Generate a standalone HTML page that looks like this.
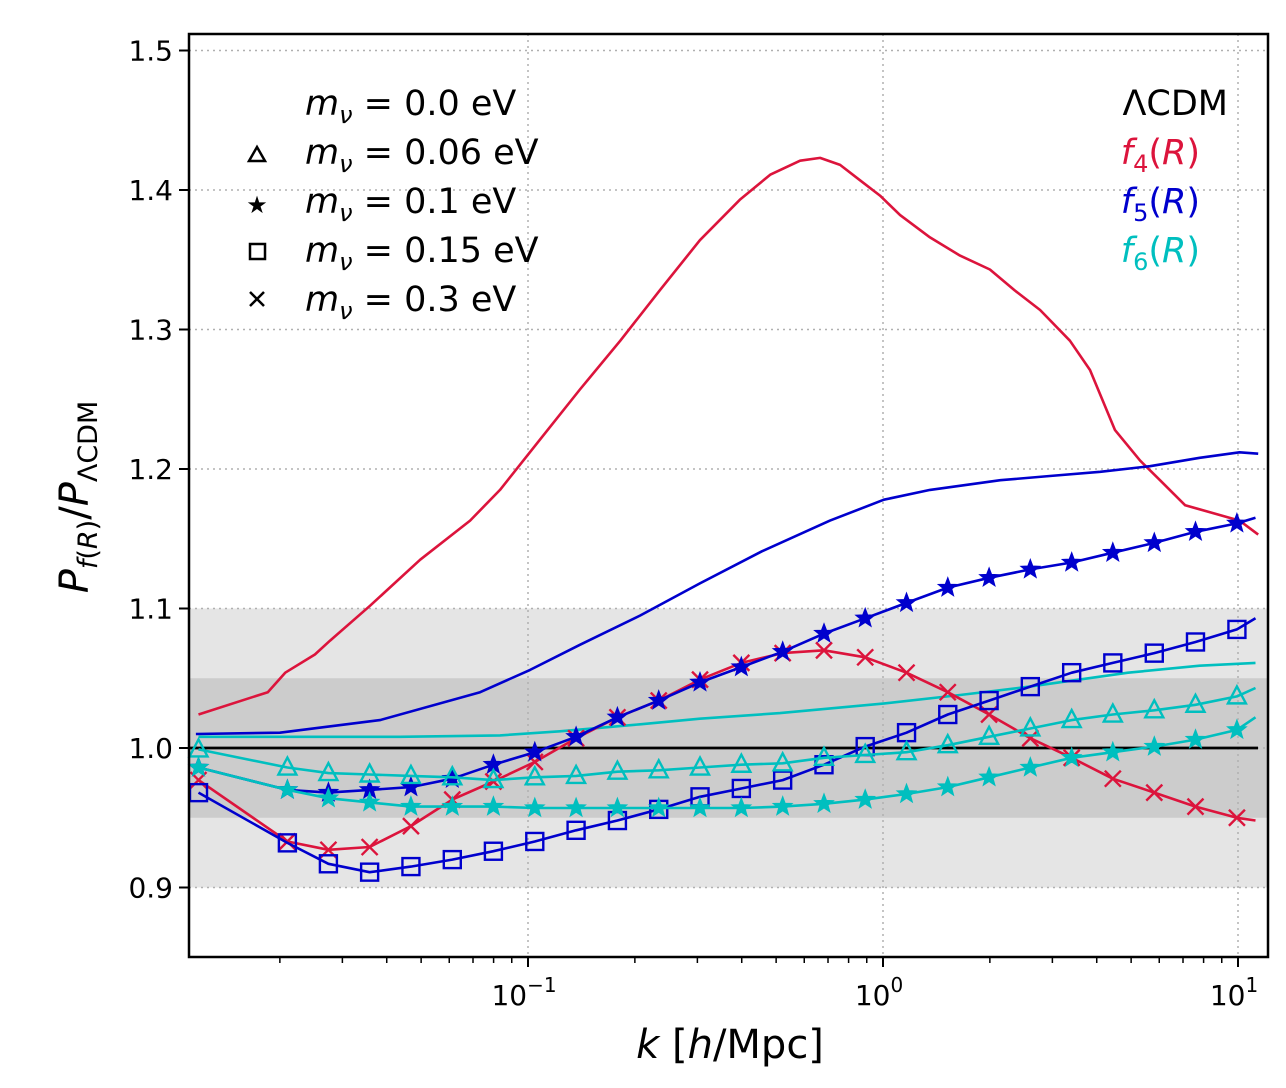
<!DOCTYPE html>
<html><head><meta charset="utf-8">
<style>
html,body{margin:0;padding:0;background:#fff;}
svg{display:block;font-family:"DejaVu Sans","Liberation Sans",sans-serif;}
</style></head>
<body>
<svg id="chart" width="1286" height="1088" viewBox="0 0 1286 1088" xmlns="http://www.w3.org/2000/svg">
<g id="bands"></g>
<g id="grid"></g>
<g id="series"></g>
<g id="axes"></g>
<g id="legend">
  <text x="305" y="115" font-size="35"><tspan font-style="italic">m</tspan><tspan font-style="italic" font-size="24" dy="8">ν</tspan><tspan dy="-8"> = 0.0 eV</tspan></text>
  <path d="M249,161 L265,161 L257,147 Z" fill="none" stroke="#000" stroke-width="2.5"/>
  <text x="305" y="164" font-size="35"><tspan font-style="italic">m</tspan><tspan font-style="italic" font-size="24" dy="8">ν</tspan><tspan dy="-8"> = 0.06 eV</tspan></text>
  <text x="257" y="213" font-size="24" text-anchor="middle">★</text>
  <text x="305" y="213" font-size="35"><tspan font-style="italic">m</tspan><tspan font-style="italic" font-size="24" dy="8">ν</tspan><tspan dy="-8"> = 0.1 eV</tspan></text>
  <rect x="250" y="244" width="15" height="15" fill="none" stroke="#000" stroke-width="2.5"/>
  <text x="305" y="262" font-size="35"><tspan font-style="italic">m</tspan><tspan font-style="italic" font-size="24" dy="8">ν</tspan><tspan dy="-8"> = 0.15 eV</tspan></text>
  <path d="M250,292 L264,306 M264,292 L250,306" stroke="#000" stroke-width="2.5"/>
  <text x="305" y="311" font-size="35"><tspan font-style="italic">m</tspan><tspan font-style="italic" font-size="24" dy="8">ν</tspan><tspan dy="-8"> = 0.3 eV</tspan></text>
  <text x="1228" y="115" font-size="35" text-anchor="end" fill="#000">ΛCDM</text>
  <text x="1200" y="164" font-size="35" text-anchor="end" fill="#dc143c"><tspan font-style="italic">f</tspan><tspan font-size="24" dy="8">4</tspan><tspan dy="-8">(</tspan><tspan font-style="italic">R</tspan><tspan>)</tspan></text>
  <text x="1200" y="213" font-size="35" text-anchor="end" fill="#0000cd"><tspan font-style="italic">f</tspan><tspan font-size="24" dy="8">5</tspan><tspan dy="-8">(</tspan><tspan font-style="italic">R</tspan><tspan>)</tspan></text>
  <text x="1200" y="262" font-size="35" text-anchor="end" fill="#00bfbf"><tspan font-style="italic">f</tspan><tspan font-size="24" dy="8">6</tspan><tspan dy="-8">(</tspan><tspan font-style="italic">R</tspan><tspan>)</tspan></text>
</g>
<text x="730" y="1058" font-size="40" text-anchor="middle"><tspan font-style="italic">k</tspan> [<tspan font-style="italic">h</tspan>/Mpc]</text>
<text transform="translate(88,497) rotate(-90)" font-size="40" text-anchor="middle"><tspan font-style="italic">P</tspan><tspan font-size="27" dy="9"><tspan font-style="italic">f</tspan>(<tspan font-style="italic">R</tspan>)</tspan><tspan dy="-9">/</tspan><tspan font-style="italic">P</tspan><tspan font-size="27" dy="9">ΛCDM</tspan></text>
</svg>
<script>
// ---- data ----
const kGrid = [0.0118,0.0210,0.0274,0.0358,0.0468,0.0612,0.0799,0.1045,0.1366,0.1786,0.2335,0.3052,0.399,0.5216,0.682,0.891,1.165,1.522,1.990,2.60,3.40,4.44,5.81,7.59,9.93,11.2];
const f6Tri = [0.999,0.986,0.982,0.981,0.980,0.979,0.977,0.979,0.980,0.983,0.984,0.986,0.988,0.989,0.993,0.995,0.997,1.002,1.008,1.014,1.020,1.024,1.027,1.031,1.037,1.043];
const f6Star = [0.986,0.970,0.964,0.961,0.958,0.958,0.958,0.957,0.957,0.957,0.957,0.957,0.957,0.958,0.960,0.963,0.967,0.972,0.979,0.986,0.993,0.997,1.001,1.006,1.013,1.022];
const f5Star = [0.986,0.970,0.968,0.970,0.972,0.978,0.988,0.997,1.008,1.022,1.034,1.047,1.058,1.069,1.082,1.093,1.104,1.115,1.122,1.128,1.133,1.140,1.147,1.155,1.161,1.165];
const f5Sq = [0.968,0.932,0.917,0.911,0.915,0.920,0.926,0.933,0.941,0.948,0.956,0.965,0.971,0.977,0.988,1.001,1.011,1.024,1.034,1.044,1.054,1.061,1.068,1.076,1.085,1.093];
const f4X = [0.977,0.933,0.927,0.929,0.944,0.963,0.976,0.990,1.007,1.022,1.034,1.049,1.061,1.068,1.070,1.065,1.054,1.040,1.024,1.007,0.993,0.978,0.968,0.958,0.950,0.948];
const f6K = [0.0118,0.0228,0.0436,0.0834,0.123,0.207,0.305,0.513,1.01,1.648,2.59,4.9,7.8,11.2];
const f6V = [1.008,1.008,1.008,1.009,1.012,1.017,1.021,1.025,1.032,1.038,1.044,1.054,1.059,1.061];
const f5K = [0.0116,0.0200,0.0383,0.0733,0.1014,0.140,0.207,0.305,0.456,0.709,1.006,1.356,2.14,2.95,4.09,5.65,7.8,10.1,11.4];
const f5V = [1.010,1.011,1.020,1.040,1.056,1.074,1.095,1.118,1.141,1.163,1.178,1.185,1.192,1.195,1.198,1.202,1.208,1.212,1.211];
const f4K = [0.0118,0.0185,0.0207,0.0251,0.0277,0.0359,0.0497,0.0687,0.0834,0.108,0.140,0.182,0.235,0.305,0.395,0.481,0.584,0.665,0.757,0.861,0.981,1.117,1.356,1.648,2.0,2.35,2.77,3.36,3.83,4.5,5.3,6.03,7.1,8.34,10.1,11.4];
const f4V = [1.024,1.040,1.054,1.067,1.077,1.102,1.135,1.163,1.185,1.221,1.257,1.292,1.328,1.364,1.393,1.411,1.421,1.423,1.418,1.407,1.396,1.382,1.366,1.353,1.343,1.328,1.314,1.292,1.271,1.228,1.206,1.192,1.174,1.169,1.163,1.153];
const yTicks = [0.9,1.0,1.1,1.2,1.3,1.4,1.5];
const yTickLabels = ["0.9","1.0","1.1","1.2","1.3","1.4","1.5"];
const xTicks = [0.1,1,10];
const xTickExp = ["−1","0","1"];

// ---- axes ----
const L=189,R=1268,T=34,B=957;
const NS='http://www.w3.org/2000/svg';
function xs(k){return 883+355*Math.log10(k);}
function ys(v){return 748-(v-1)*1395;}
function mk(tag,attrs,parent){const e=document.createElementNS(NS,tag);for(const a in attrs)e.setAttribute(a,attrs[a]);parent.appendChild(e);return e;}
const bands=document.getElementById('bands'),grid=document.getElementById('grid'),ser=document.getElementById('series'),axes=document.getElementById('axes');

let b1=mk('rect',{x:L,y:ys(1.1),width:R-L,height:ys(0.9)-ys(1.1),fill:'#e5e5e5'},bands);


let b2=mk('rect',{x:L,y:ys(1.05),width:R-L,height:ys(0.95)-ys(1.05),fill:'#cccccc'},bands);



yTicks.forEach((v,i)=>{
  const y=ys(v);
  let g=mk('line',{x1:L,x2:R,y1:y,y2:y,stroke:'#b0b0b0','stroke-width':1.5,'stroke-dasharray':'2,4'},grid);
  
  
  let t=mk('line',{x1:L-10,x2:L,y1:y,y2:y,stroke:'#000','stroke-width':2},axes);
  
  
  let tx=mk('text',{x:L-16,y:y+10,'font-size':28,'text-anchor':'end'},axes);
  tx.textContent=yTickLabels[i];
  
  
});
xTicks.forEach((k,i)=>{
  const x=xs(k);
  let g=mk('line',{x1:x,x2:x,y1:T,y2:B,stroke:'#b0b0b0','stroke-width':1.5,'stroke-dasharray':'2,4'},grid);
  
  
  let t=mk('line',{x1:x,x2:x,y1:B,y2:B+10,stroke:'#000','stroke-width':2},axes);
  
  
  let tx=mk('text',{x:x-4,y:B+48,'font-size':28,'text-anchor':'middle'},axes);
  tx.innerHTML='10<tspan font-size="20" dy="-13">'+xTickExp[i]+'</tspan>';
  
  
});
for(let d=-2;d<=1;d++){for(let m=2;m<=9;m++){const k=m*Math.pow(10,d);const x=xs(k);if(x<L||x>R)continue;
  let t=mk('line',{x1:x,x2:x,y1:B,y2:B+6,stroke:'#000','stroke-width':1.5},axes);
  
  }}
let frame=mk('rect',{x:L,y:T,width:R-L,height:B-T,fill:'none',stroke:'#000','stroke-width':2.5},axes);



// ---- series ----
function line(K,V,color,name){
  const d=K.map((k,i)=>(i?'L':'M')+xs(k).toFixed(1)+','+ys(V[i]).toFixed(1)).join(' ');
  let p=mk('path',{d:d,fill:'none',stroke:color,'stroke-width':2.6,'stroke-linejoin':'round'},ser);
  
  
}
function starPath(cx,cy,r){let s='';for(let i=0;i<10;i++){const a=-Math.PI/2+i*Math.PI/5;const rr=i%2?r*0.42:r;s+=(i?'L':'M')+(cx+rr*Math.cos(a)).toFixed(1)+','+(cy+rr*Math.sin(a)).toFixed(1);}return s+'Z';}
function markers(K,V,color,type,name){
  const g=mk('g',{},ser);
  
  
  for(let i=0;i<K.length-1;i++){
    const x=xs(K[i]),y=ys(V[i]);let e;
    if(type==='tri')e=mk('path',{d:`M${x-9},${y+7} L${x+9},${y+7} L${x},${y-10} Z`,fill:'none',stroke:color,'stroke-width':2.4},g);
    else if(type==='sq')e=mk('rect',{x:x-8.5,y:y-8.5,width:17,height:17,fill:'none',stroke:color,'stroke-width':2.4},g);
    else if(type==='star')e=mk('path',{d:starPath(x,y,10),fill:color,stroke:color,'stroke-width':1},g);
    else e=mk('path',{d:`M${x-8},${y-8} L${x+8},${y+8} M${x+8},${y-8} L${x-8},${y+8}`,stroke:color,'stroke-width':2.4},g);
    
    
  }
}
const RED='#dc143c',BLUE='#0000cd',CYAN='#00bfbf';
line(f4K,f4V,RED,'f4-massless-line');
line(f5K,f5V,BLUE,'f5-massless-line');
line(f6K,f6V,CYAN,'f6-massless-line');
let lc=mk('line',{x1:L,x2:1258,y1:ys(1),y2:ys(1),stroke:'#000','stroke-width':2.8},ser);


line(kGrid,f4X,RED,'f4-0.3ev-line');markers(kGrid,f4X,RED,'x','f4-0.3ev');
line(kGrid,f5Sq,BLUE,'f5-0.15ev-line');markers(kGrid,f5Sq,BLUE,'sq','f5-0.15ev');
line(kGrid,f5Star,BLUE,'f5-0.1ev-line');markers(kGrid,f5Star,BLUE,'star','f5-0.1ev');
line(kGrid,f6Tri,CYAN,'f6-0.06ev-line');markers(kGrid,f6Tri,CYAN,'tri','f6-0.06ev');
line(kGrid,f6Star,CYAN,'f6-0.1ev-line');markers(kGrid,f6Star,CYAN,'star','f6-0.1ev');
</script>
</body></html>
